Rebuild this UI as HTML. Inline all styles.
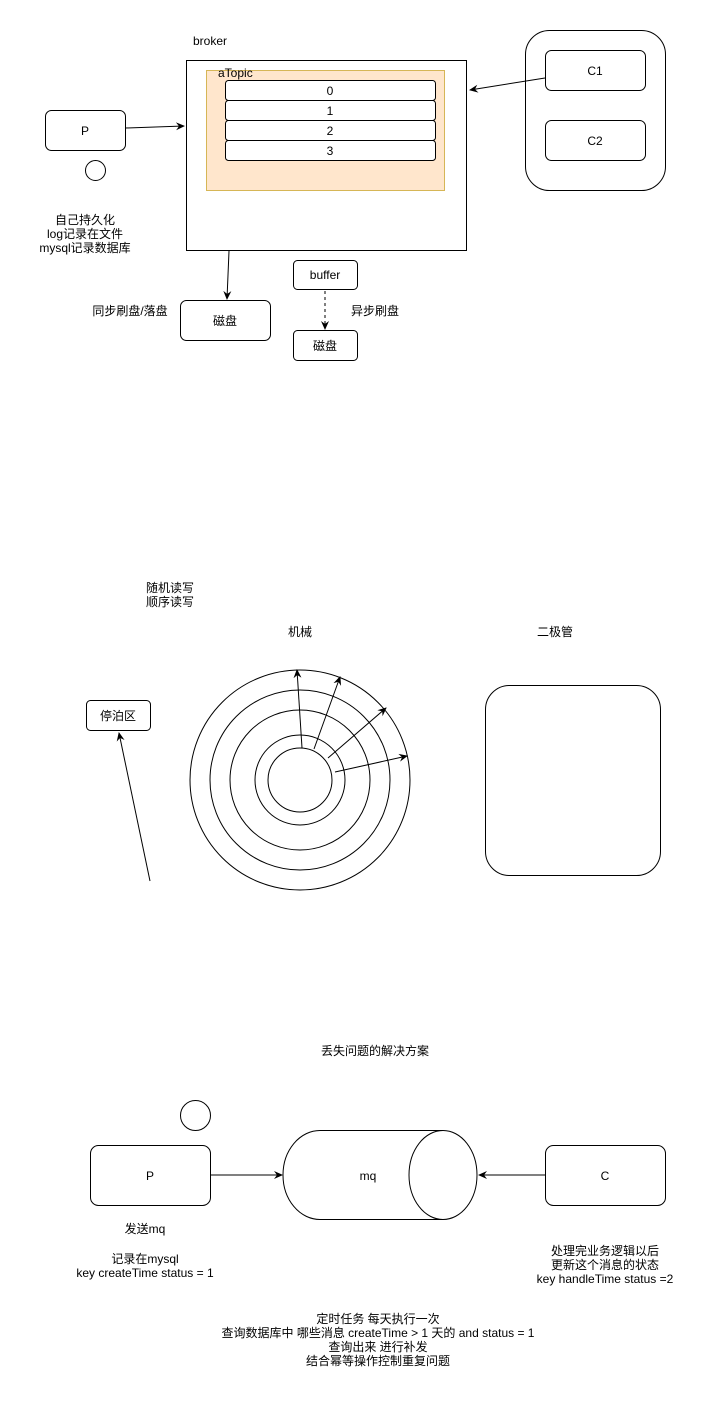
<!DOCTYPE html>
<html><head><meta charset="utf-8"><style>
body{margin:0;background:#fff;}
svg text{font-family:"Liberation Sans","Noto Sans CJK SC",sans-serif;font-size:12px;fill:#000;}
</style></head><body>
<svg width="711" height="1401" xmlns="http://www.w3.org/2000/svg">
<defs><marker id="a" markerWidth="10" markerHeight="10" refX="8" refY="5" orient="auto" markerUnits="userSpaceOnUse"><path d="M0,1 L9,5 L0,9 L3,5z" fill="#000"/></marker></defs>
<g fill="none" stroke="#000" stroke-width="1">
<text x="193" y="45" stroke="none">broker</text>
<rect x="186.5" y="60.5" width="280" height="190" fill="#fff"/>
<rect x="206.5" y="70.5" width="238" height="120" fill="#ffe6cc" stroke="#d6b656"/>
<text x="218" y="77" stroke="none">aTopic</text>
<rect x="225.5" y="80.5" width="210" height="20" rx="3" fill="#fff"/>
<rect x="225.5" y="100.5" width="210" height="20" rx="3" fill="#fff"/>
<rect x="225.5" y="120.5" width="210" height="20" rx="3" fill="#fff"/>
<rect x="225.5" y="140.5" width="210" height="20" rx="3" fill="#fff"/>
<text x="330" y="95" text-anchor="middle" stroke="none">0</text>
<text x="330" y="115" text-anchor="middle" stroke="none">1</text>
<text x="330" y="135" text-anchor="middle" stroke="none">2</text>
<text x="330" y="155" text-anchor="middle" stroke="none">3</text>
<rect x="45.5" y="110.5" width="80" height="40" rx="6"/>
<text x="85" y="135" text-anchor="middle" stroke="none">P</text>
<line x1="126" y1="128" x2="184" y2="126" marker-end="url(#a)"/>
<circle cx="95.5" cy="170.5" r="10"/>
<text x="85" y="224" text-anchor="middle" stroke="none">自己持久化</text>
<text x="85" y="238" text-anchor="middle" stroke="none">log记录在文件</text>
<text x="85" y="252" text-anchor="middle" stroke="none">mysql记录数据库</text>
<rect x="525.5" y="30.5" width="140" height="160" rx="24"/>
<rect x="545.5" y="50.5" width="100" height="40" rx="6"/>
<rect x="545.5" y="120.5" width="100" height="40" rx="6"/>
<text x="595" y="75" text-anchor="middle" stroke="none">C1</text>
<text x="595" y="145" text-anchor="middle" stroke="none">C2</text>
<line x1="545" y1="78" x2="470" y2="90" marker-end="url(#a)"/>
<line x1="229" y1="251" x2="227" y2="299" marker-end="url(#a)"/>
<rect x="180.5" y="300.5" width="90" height="40" rx="6"/>
<text x="225" y="325" text-anchor="middle" stroke="none">磁盘</text>
<text x="130" y="315" text-anchor="middle" stroke="none">同步刷盘/落盘</text>
<rect x="293.5" y="260.5" width="64" height="29" rx="4"/>
<text x="325" y="279" text-anchor="middle" stroke="none">buffer</text>
<line x1="325" y1="291" x2="325" y2="329" stroke-dasharray="3,3" marker-end="url(#a)"/>
<rect x="293.5" y="330.5" width="64" height="30" rx="4"/>
<text x="325" y="350" text-anchor="middle" stroke="none">磁盘</text>
<text x="375" y="315" text-anchor="middle" stroke="none">异步刷盘</text>

<text x="170" y="592" text-anchor="middle" stroke="none">随机读写</text>
<text x="170" y="606" text-anchor="middle" stroke="none">顺序读写</text>
<text x="300" y="636" text-anchor="middle" stroke="none">机械</text>
<text x="555" y="636" text-anchor="middle" stroke="none">二极管</text>
<circle cx="300" cy="780" r="110"/>
<circle cx="300" cy="780" r="90"/>
<circle cx="300" cy="780" r="70"/>
<circle cx="300" cy="780" r="45"/>
<circle cx="300" cy="780" r="32"/>
<line x1="302" y1="748" x2="297" y2="670" marker-end="url(#a)"/>
<line x1="314" y1="749" x2="340" y2="677" marker-end="url(#a)"/>
<line x1="328" y1="758" x2="386" y2="708" marker-end="url(#a)"/>
<line x1="335" y1="772" x2="407" y2="756" marker-end="url(#a)"/>
<rect x="86.5" y="700.5" width="64" height="30" rx="4"/>
<text x="118" y="720" text-anchor="middle" stroke="none">停泊区</text>
<line x1="150" y1="881" x2="119" y2="733" marker-end="url(#a)"/>
<rect x="485.5" y="685.5" width="175" height="190" rx="24"/>

<text x="375" y="1055" text-anchor="middle" stroke="none">丢失问题的解决方案</text>
<circle cx="195.5" cy="1115.5" r="15"/>
<rect x="90.5" y="1145.5" width="120" height="60" rx="8"/>
<text x="150" y="1180" text-anchor="middle" stroke="none">P</text>
<line x1="211" y1="1175" x2="282" y2="1175" marker-end="url(#a)"/>
<path d="M320,1130.5 H443 A34,44.5 0 0 1 443,1219.5 H320 A37,44.5 0 0 1 320,1130.5z"/>
<path d="M443,1130.5 A34,44.5 0 0 0 443,1219.5"/>
<text x="368" y="1180" text-anchor="middle" stroke="none">mq</text>
<rect x="545.5" y="1145.5" width="120" height="60" rx="8"/>
<text x="605" y="1180" text-anchor="middle" stroke="none">C</text>
<line x1="545" y1="1175" x2="479" y2="1175" marker-end="url(#a)"/>
<text x="145" y="1233" text-anchor="middle" stroke="none">发送mq</text>
<text x="145" y="1263" text-anchor="middle" stroke="none">记录在mysql</text>
<text x="145" y="1277" text-anchor="middle" stroke="none">key  createTime status = 1</text>
<text x="605" y="1255" text-anchor="middle" stroke="none">处理完业务逻辑以后</text>
<text x="605" y="1269" text-anchor="middle" stroke="none">更新这个消息的状态</text>
<text x="605" y="1283" text-anchor="middle" stroke="none">key handleTime status =2</text>
<text x="378" y="1323" text-anchor="middle" stroke="none">定时任务 每天执行一次</text>
<text x="378" y="1337" text-anchor="middle" stroke="none">查询数据库中 哪些消息 createTime &gt; 1 天的 and status = 1</text>
<text x="378" y="1351" text-anchor="middle" stroke="none">查询出来 进行补发</text>
<text x="378" y="1365" text-anchor="middle" stroke="none">结合幂等操作控制重复问题</text>
</g>
</svg>
</body></html>
